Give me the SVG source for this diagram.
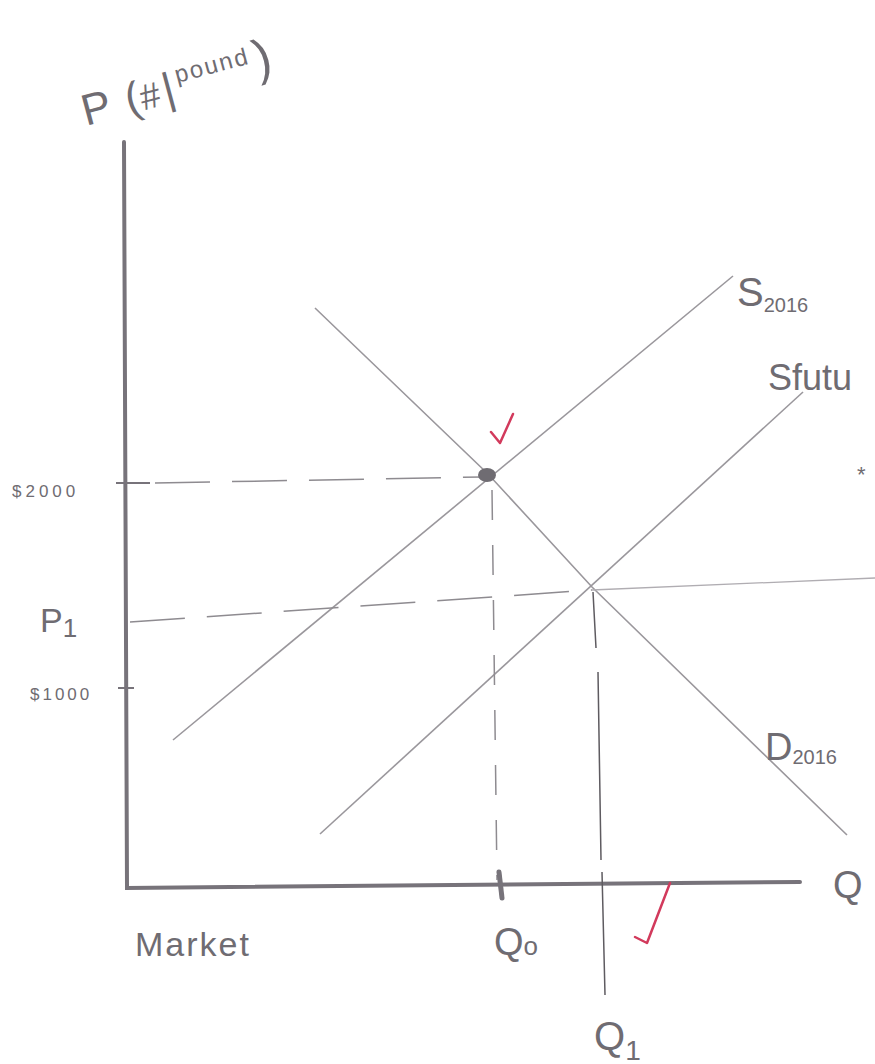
<svg xmlns="http://www.w3.org/2000/svg" width="875" height="1064" viewBox="0 0 875 1064">
<defs>
<style>
.axis{stroke:#77737a;stroke-width:4;fill:none;stroke-linecap:round}
.curve{stroke:#9a979c;stroke-width:1.6;fill:none}
.dash{stroke:#8e8b90;stroke-width:1.5;fill:none;stroke-dasharray:55 22}
.vdash{stroke:#8e8b90;stroke-width:1.5;fill:none;stroke-dasharray:30 25}
.tick{stroke:#77737a;stroke-width:2;fill:none}
.check{stroke:#d23a5c;stroke-width:2.5;fill:none;stroke-linecap:round;stroke-linejoin:round}
.lbl{font-family:"Liberation Sans",Arial,sans-serif;fill:#6f6c72}
</style>
</defs>
<rect width="875" height="1064" fill="#ffffff"/>
<g id="axes">
<path class="axis" d="M124,142 L127,888 L800,882"/>
</g>
<g id="connectors">
<path class="curve" d="M173,740 L733,276"/>
<path class="curve" d="M320,834 L803,392"/>
<path class="curve" d="M315,308 L488,474 L592,587 L847,835"/>
<path class="dash" d="M155,483 L482,477"/>
<path class="dash" d="M130,622 L592,590"/>
<path class="curve" d="M592,590 L875,578" style="stroke:#b0adb2;stroke-width:1.3"/>
<path class="vdash" d="M492,490 L497,880"/>
<path class="curve" d="M593,592 L596,648 M598,672 L601,860 M602,872 L605,995" style="stroke:#5e5b60;stroke-width:1.5"/>
<path class="tick" d="M116,483 L150,483"/>
<path class="tick" d="M118,688 L134,688"/>
<path class="axis" style="stroke-width:5" d="M499,872 L502,898"/>
</g>
<g id="equilibrium">
<ellipse cx="487" cy="475" rx="9" ry="7" fill="#6f6c72"/>
</g>
<g id="checks">
<path class="check" d="M491,432 L500,443 L513,414"/>
<path class="check" d="M635,937 L647,943 L670,883"/>
</g>
<g id="labels">
<text class="lbl" x="86" y="126" font-size="44" transform="rotate(-15 86 126)">P <tspan dx="4">(</tspan><tspan font-size="36">#</tspan><tspan dx="4">|</tspan><tspan font-size="24" dy="-18" dx="4" letter-spacing="2">pound</tspan><tspan dy="14" dx="4" font-size="50">)</tspan></text>
<text class="lbl" x="12" y="497" font-size="17" letter-spacing="4">$2000</text>
<text class="lbl" x="40" y="632" font-size="34">P<tspan font-size="26" dy="5">1</tspan></text>
<text class="lbl" x="30" y="700" font-size="17" letter-spacing="3">$1000</text>
<text class="lbl" x="737" y="306" font-size="40">S<tspan font-size="20" dy="6">2016</tspan></text>
<text class="lbl" x="768" y="390" font-size="36">Sfutu</text>
<text class="lbl" x="765" y="760" font-size="38">D<tspan font-size="20" dy="4">2016</tspan></text>
<text class="lbl" x="833" y="898" font-size="38">Q</text>
<text class="lbl" x="135" y="956" font-size="34" letter-spacing="2">Market</text>
<text class="lbl" x="494" y="955" font-size="38">Q<tspan font-size="26">o</tspan></text>
<text class="lbl" x="594" y="1050" font-size="40">Q<tspan font-size="28" dy="10">1</tspan></text>
<text class="lbl" x="857" y="482" font-size="22">*</text>
</g>
</svg>
